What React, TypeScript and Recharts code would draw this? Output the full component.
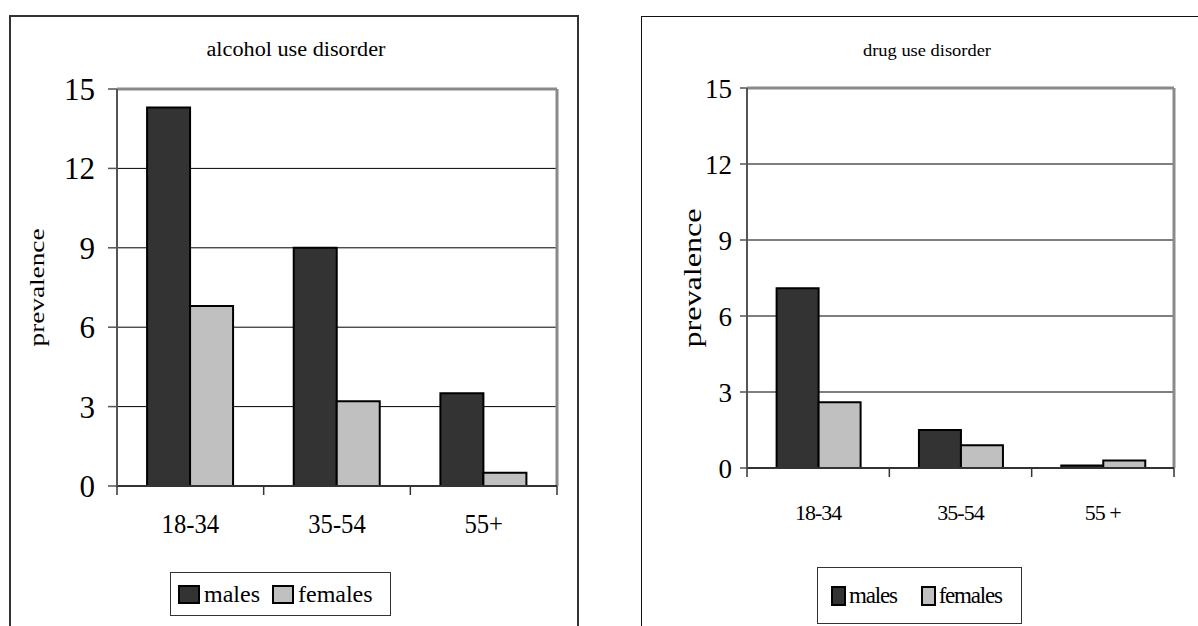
import {
  BarChart,
  Bar,
  XAxis,
  YAxis,
  CartesianGrid,
  ReferenceLine,
  Legend,
} from "recharts";

const SERIF = "'Liberation Serif', 'Times New Roman', serif";

const ageGroups = ["18-34", "35-54", "55+"];
const ageGroupsDrug = ["18-34", "35-54", "55 +"];
const seriesNames = ["males", "females"];
const seriesColors = ["#333333", "#c0c0c0"];
const yTicks = [0, 3, 6, 9, 12, 15];
const boundaryTicks = [0, 0.5, 1, 1.5, 2, 2.5, 3];

// prevalence (%) by age group
const alcoholMales = [14.3, 9.0, 3.5];
const alcoholFemales = [6.8, 3.2, 0.5];
const drugMales = [7.1, 1.5, 0.1];
const drugFemales = [2.6, 0.9, 0.3];

const buildRows = (labels: string[], males: number[], females: number[]) =>
  labels.map((age, i) => ({
    age,
    pos: i + 0.5,
    males: males[i],
    females: females[i],
  }));

interface PanelStyle {
  width: number;
  height: number;
  margin: { top: number; right: number; bottom: number; left: number };
  yAxisWidth: number;
  yFont: number;
  yTickSize: number;
  yTickMargin: number;
  xFont: number;
  xScale: number;
  xLabelDy: number;
  xTickLen: number;
  xSpacing: number;
  labelX: number;
  labelFont: number;
  labelLength: number;
  title: { x: number; y: number; font: number; length: number };
  gap: string;
  legend: {
    left: number;
    top: number;
    width: number;
    height: number;
    padLeft: number;
    swatchW: number;
    swatchH: number;
    font: number;
    spacing: number;
    textGap: number;
    itemGap: number;
  };
}

const alcoholStyle: PanelStyle = {
  width: 600,
  height: 626,
  margin: { top: 89, right: 43, bottom: 110, left: 0 },
  yAxisWidth: 117,
  yFont: 31,
  yTickSize: 9,
  yTickMargin: 13,
  xFont: 28,
  xScale: 0.88,
  xLabelDy: 47,
  xTickLen: 9,
  xSpacing: 0,
  labelX: 44,
  labelFont: 22,
  labelLength: 118,
  title: { x: 296, y: 56, font: 20, length: 179 },
  gap: "20.5%",
  legend: {
    left: 170,
    top: 572,
    width: 221,
    height: 44,
    padLeft: 7,
    swatchW: 22,
    swatchH: 19,
    font: 24,
    spacing: 0,
    textGap: 4,
    itemGap: 12,
  },
};

const drugStyle: PanelStyle = {
  width: 598,
  height: 626,
  margin: { top: 88, right: 24, bottom: 128, left: 0 },
  yAxisWidth: 147,
  yFont: 27,
  yTickSize: 7,
  yTickMargin: 8,
  xFont: 22,
  xScale: 1,
  xLabelDy: 52,
  xTickLen: 9,
  xSpacing: -1,
  labelX: 101,
  labelFont: 25,
  labelLength: 139,
  title: { x: 327, y: 56, font: 17, length: 128 },
  gap: "20.8%",
  legend: {
    left: 217,
    top: 567,
    width: 205,
    height: 57,
    padLeft: 13,
    swatchW: 15,
    swatchH: 20,
    font: 23,
    spacing: -1.2,
    textGap: 3,
    itemGap: 24,
  },
};

// tick lines sit on the category boundaries, labels in the middle of each group
function BoundaryTick(props: any) {
  const { x, y, payload, labels, s } = props;
  const v = payload.value as number;
  if (Number.isInteger(v)) {
    return <line x1={x} x2={x} y1={y} y2={y + s.xTickLen} stroke="#333" strokeWidth={1.5} />;
  }
  const ty = y + s.xLabelDy;
  return (
    <text
      x={x}
      y={ty}
      transform={`translate(${x} ${ty}) scale(${s.xScale} 1) translate(${-x} ${-ty})`}
      textAnchor="middle"
      fontFamily={SERIF}
      fontSize={s.xFont}
      letterSpacing={s.xSpacing}
      fill="#000"
    >
      {labels[Math.floor(v)]}
    </text>
  );
}

function LegendBox({ s }: { s: PanelStyle }) {
  const l = s.legend;
  return (
    <div
      style={{
        boxSizing: "border-box",
        width: l.width,
        height: l.height,
        border: "1.5px solid #333",
        background: "#fff",
        display: "flex",
        alignItems: "center",
        paddingLeft: l.padLeft,
        fontFamily: SERIF,
        fontSize: l.font,
        letterSpacing: l.spacing,
        color: "#000",
      }}
    >
      {seriesNames.map((name, i) => (
        <div
          key={name}
          style={{ display: "flex", alignItems: "center", marginRight: l.itemGap }}
        >
          <span
            style={{
              boxSizing: "border-box",
              display: "inline-block",
              width: l.swatchW,
              height: l.swatchH,
              background: seriesColors[i],
              border: "2.5px solid #000",
              marginRight: l.textGap,
            }}
          />
          <span style={{ lineHeight: 1 }}>{name}</span>
        </div>
      ))}
    </div>
  );
}

function Panel({
  title,
  labels,
  males,
  females,
  s,
}: {
  title: string;
  labels: string[];
  males: number[];
  females: number[];
  s: PanelStyle;
}) {
  const data = buildRows(labels, males, females);
  return (
    <div style={{ position: "relative", width: s.width, height: s.height }}>
      <svg
        width={s.width}
        height={80}
        style={{ position: "absolute", left: 0, top: 0 }}
      >
        <text
          x={s.title.x}
          y={s.title.y}
          textAnchor="middle"
          fontFamily={SERIF}
          fontSize={s.title.font}
          textLength={s.title.length}
          lengthAdjust="spacingAndGlyphs"
          fill="#000"
        >
          {title}
        </text>
      </svg>
      <BarChart
        width={s.width}
        height={s.height}
        data={data}
        margin={s.margin}
        barCategoryGap={s.gap}
        barGap={0}
        style={{ position: "absolute", left: 0, top: 0 }}
      >
        <CartesianGrid vertical={false} stroke="#000" strokeWidth={1} />
        <XAxis dataKey="age" hide height={0} />
        <XAxis
          xAxisId="num"
          type="number"
          dataKey="pos"
          domain={[0, 3]}
          ticks={boundaryTicks}
          interval={0}
          allowDataOverflow
          tickLine={false}
          tickSize={0}
          tickMargin={0}
          height={30}
          axisLine={{ stroke: "#333", strokeWidth: 2 }}
          tick={<BoundaryTick labels={labels} s={s} />}
        />
        <YAxis
          domain={[0, 15]}
          ticks={yTicks}
          interval={0}
          width={s.yAxisWidth}
          tickSize={s.yTickSize}
          tickMargin={s.yTickMargin}
          axisLine={{ stroke: "#555", strokeWidth: 2 }}
          tickLine={{ stroke: "#555", strokeWidth: 1.5 }}
          tick={{ fill: "#000", fontSize: s.yFont, fontFamily: SERIF }}
          label={(p: any) => {
            const vb = p.viewBox;
            const cx = vb.x + s.labelX;
            const cy = vb.y + vb.height / 2;
            return (
              <text
                x={cx}
                y={cy}
                transform={`rotate(-90 ${cx} ${cy})`}
                textAnchor="middle"
                fontFamily={SERIF}
                fontSize={s.labelFont}
                textLength={s.labelLength}
                lengthAdjust="spacingAndGlyphs"
                fill="#000"
              >
                prevalence
              </text>
            );
          }}
        />
        <ReferenceLine y={15} stroke="#8a8a8a" strokeWidth={3} />
        <ReferenceLine xAxisId="num" x={3} stroke="#8a8a8a" strokeWidth={3} />
        <Bar
          dataKey="males"
          fill={seriesColors[0]}
          stroke="#000"
          strokeWidth={2}
          isAnimationActive={false}
        />
        <Bar
          dataKey="females"
          fill={seriesColors[1]}
          stroke="#000"
          strokeWidth={2}
          isAnimationActive={false}
        />
        <Legend
          verticalAlign="middle"
          align="center"
          layout="horizontal"
          wrapperStyle={{
            left: s.legend.left,
            top: s.legend.top,
            width: "auto",
            height: "auto",
          }}
          content={() => <LegendBox s={s} />}
        />
      </BarChart>
    </div>
  );
}

export default function App() {
  return (
    <div
      style={{
        position: "absolute",
        left: 0,
        top: 0,
        width: 1198,
        height: 626,
        overflow: "hidden",
        background: "#fff",
      }}
    >
      <div
        style={{
          position: "absolute",
          left: 9,
          top: 15,
          width: 570,
          height: 700,
          border: "2px solid #333",
          boxSizing: "border-box",
        }}
      />
      <div
        style={{
          position: "absolute",
          left: 641,
          top: 16,
          width: 600,
          height: 700,
          border: "1.5px solid #111",
          boxSizing: "border-box",
        }}
      />
      <div style={{ position: "absolute", left: 0, top: 0 }}>
        <Panel
          title="alcohol use disorder"
          labels={ageGroups}
          males={alcoholMales}
          females={alcoholFemales}
          s={alcoholStyle}
        />
      </div>
      <div style={{ position: "absolute", left: 600, top: 0 }}>
        <Panel
          title="drug use disorder"
          labels={ageGroupsDrug}
          males={drugMales}
          females={drugFemales}
          s={drugStyle}
        />
      </div>
    </div>
  );
}
